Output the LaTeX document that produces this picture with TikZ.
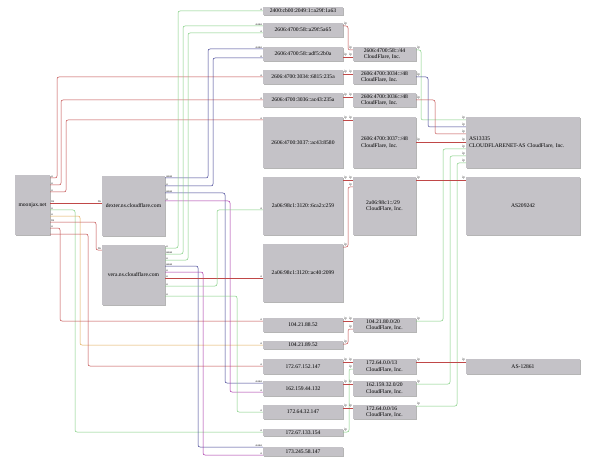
\documentclass[tikz,border=0pt]{standalone}
\usepackage{fontspec}
\setmainfont{Liberation Serif}
\usetikzlibrary{shadows}
\definecolor{boxgray}{RGB}{196,194,199}
\definecolor{shadegray}{RGB}{150,150,150}
\definecolor{ered}{RGB}{192,72,72}
\definecolor{egreen}{RGB}{125,205,125}
\definecolor{eblue}{RGB}{60,60,145}
\definecolor{epurple}{RGB}{165,45,165}
\definecolor{eorange}{RGB}{225,170,85}
\tikzset{
  box/.style={fill=boxgray, inner sep=0pt, align=center, font=\fontsize{5.6}{6.2}\selectfont,
    drop shadow={shadow xshift=0.8pt, shadow yshift=-0.8pt, fill=shadegray, opacity=0.7}},
  ipbox/.style={box, minimum width=80pt},
  pfxbox/.style={box, minimum width=63pt, align=left},
  asbox/.style={box, minimum width=114pt},
  lbl/.style={font=\fontsize{3.5}{4}\selectfont, inner sep=0.6pt, text=black!80},
  sl/.style={anchor=south west},
  el/.style={anchor=south east},
  wire/.style={line width=0.5pt, rounded corners=2pt},
}
\begin{document}
\begin{tikzpicture}[x=1pt, y=-1pt]
\useasboundingbox (0,0) rectangle (594,465);

% Names
\node[box, minimum width=35pt, minimum height=60pt] (moon) at (32.5,205) {moonjax.net};
\node[box, minimum width=63pt, minimum height=60pt] (dexter) at (133.5,206) {dexter.ns.cloudflare.com};
\node[box, minimum width=63pt, minimum height=60pt] (vera) at (133.5,275) {vera.ns.cloudflare.com};

% Addresses
\node[ipbox, minimum height=8pt] (i1) at (303,11) {2400:cb00:2049:1::a29f:1a63};
\node[ipbox, minimum height=14pt] (i2) at (303,30) {2606:4700:58::a29f:5a65};
\node[ipbox, minimum height=14pt] (i3) at (303,54) {2606:4700:58::adf5:2b0a};
\node[ipbox, minimum height=14pt] (i4) at (303,77) {2606:4700:3034::6815:235a};
\node[ipbox, minimum height=14pt] (i5) at (303,100) {2606:4700:3036::ac43:235a};
\node[ipbox, minimum height=51pt] (i6) at (303,142.5) {2606:4700:3037::ac43:8580};
\node[ipbox, minimum height=58pt] (i7) at (303,206) {2a06:98c1:3120::6ca2:c259};
\node[ipbox, minimum height=58pt] (i8) at (303,273) {2a06:98c1:3120::ac40:2099};
\node[ipbox, minimum height=14pt] (i9) at (303,325) {104.21.88.52};
\node[ipbox, minimum height=8pt] (i10) at (303,345) {104.21.89.52};
\node[ipbox, minimum height=15pt] (i11) at (303,366.5) {172.67.152.147};
\node[ipbox, minimum height=15pt] (i12) at (303,388.5) {162.159.44.132};
\node[ipbox, minimum height=14pt] (i13) at (303,412) {172.64.32.147};
\node[ipbox, minimum height=7pt] (i14) at (303,432.5) {172.67.133.154};
\node[ipbox, minimum height=9pt] (i15) at (303,451.5) {173.245.58.147};

% Prefixes
\node[pfxbox, minimum height=14pt] (p1) at (384.5,54) {2606:4700:58::/44\\CloudFlare, Inc.};
\node[pfxbox, minimum height=14pt] (p2) at (384.5,77) {2606:4700:3034::/48\\CloudFlare, Inc.};
\node[pfxbox, minimum height=14pt] (p3) at (384.5,100) {2606:4700:3036::/48\\CloudFlare, Inc.};
\node[pfxbox, minimum height=51pt] (p4) at (384.5,142.5) {2606:4700:3037::/48\\CloudFlare, Inc.};
\node[pfxbox, minimum height=58pt] (p5) at (384.5,206) {2a06:98c1::/29\\CloudFlare, Inc.};
\node[pfxbox, minimum height=14pt] (p6) at (384.5,325) {104.21.80.0/20\\CloudFlare, Inc.};
\node[pfxbox, minimum height=15pt] (p7) at (384.5,366.5) {172.64.0.0/13\\CloudFlare, Inc.};
\node[pfxbox, minimum height=15pt] (p8) at (384.5,388.5) {162.159.32.0/20\\CloudFlare, Inc.};
\node[pfxbox, minimum height=14pt] (p9) at (384.5,412) {172.64.0.0/16\\CloudFlare, Inc.};

% Origins
\node[asbox, minimum height=51pt, text width=108pt, align=left] (a1) at (523,142.5) {AS13335\\CLOUDFLARENET-AS CloudFlare, Inc.};
\node[asbox, minimum height=58pt] (a2) at (523,206) {AS209242};
\node[asbox, minimum height=15pt] (a3) at (523,366.5) {AS-12861};

% moonjax.net
\draw[wire,ered] (moon.east |- 0,178) node[lbl,sl]{a} -| (57,77) -- (i4.west |- 0,77) node[lbl,el]{a};
\draw[wire,ered] (moon.east |- 0,185) node[lbl,sl]{a} -| (61,100) -- (i5.west |- 0,100) node[lbl,el]{a};
\draw[wire,ered] (moon.east |- 0,192) node[lbl,sl]{a} -| (66,120) -- (i6.west |- 0,120) node[lbl,el]{a};
\draw[wire,ered] (moon.east |- 0,203) node[lbl,sl]{ns} -- (dexter.west |- 0,203) node[lbl,el]{ns};
\draw[wire,egreen] (moon.east |- 0,210) node[lbl,sl]{a} -| (75,432) -- (i14.west |- 0,432) node[lbl,el]{a};
\draw[wire,eorange] (moon.east |- 0,216) node[lbl,sl]{a} -| (80,345) -- (i10.west |- 0,345) node[lbl,el]{a};
\draw[wire,ered] (moon.east |- 0,222) node[lbl,sl]{ns} -| (96,250) -- (vera.west |- 0,250) node[lbl,el]{ns};
\draw[wire,ered] (moon.east |- 0,228) node[lbl,sl]{a} -| (60,321) -- (i9.west |- 0,321) node[lbl,el]{a};
\draw[wire,ered] (moon.east |- 0,234) -| (88,366) -- (i11.west |- 0,366) node[lbl,el]{a};

% dexter
\draw[wire,eblue] (dexter.east |- 0,178) node[lbl,sl]{aaaa} -| (208,49) -- (i3.west |- 0,49) node[lbl,el]{aaaa};
\draw[wire,eblue] (dexter.east |- 0,186) node[lbl,sl]{a} -| (213,58) -- (i3.west |- 0,58) node[lbl,el]{a};
\draw[wire,eblue] (dexter.east |- 0,193) node[lbl,sl]{aaaa} -| (225,383) -- (i12.west |- 0,383) node[lbl,el]{aaaa};
\draw[wire,epurple] (dexter.east |- 0,201) node[lbl,sl]{a} -| (230,392) -- (i12.west |- 0,392) node[lbl,el]{a};

% vera
\draw[wire,egreen] (vera.east |- 0,248) node[lbl,sl]{a} -| (178,11) -- (i1.west |- 0,11) node[lbl,el]{a};
\draw[wire,egreen] (vera.east |- 0,254) node[lbl,sl]{aaaa} -| (183,26) -- (i2.west |- 0,26) node[lbl,el]{aaaa};
\draw[wire,egreen] (vera.east |- 0,260) node[lbl,sl]{a} -| (188,33) -- (i2.west |- 0,33) node[lbl,el]{a};
\draw[wire,eblue] (vera.east |- 0,266) node[lbl,sl]{aaaa} -| (198,447) -- (i15.west |- 0,447) node[lbl,el]{aaaa};
\draw[wire,epurple] (vera.east |- 0,272) node[lbl,sl]{a} -| (203,455) -- (i15.west |- 0,455) node[lbl,el]{a};
\draw[wire,ered] (vera.east |- 0,278) node[lbl,sl]{a} -- (i8.west |- 0,278) node[lbl,el]{a};
\draw[wire,egreen] (vera.east |- 0,286) node[lbl,sl]{a} -| (217,210) -- (i7.west |- 0,210) node[lbl,el]{a};
\draw[wire,egreen] (vera.east |- 0,296) node[lbl,sl]{a} -| (237,412) -- (i13.west |- 0,412) node[lbl,el]{a};

% address -> prefix
\draw[wire,ered] (i2.east |- 0,26) node[lbl,sl]{ip} -| (348,50) -- (p1.west |- 0,50) node[lbl,el]{ip};
\draw[wire,ered] (i3.east |- 0,57) node[lbl,sl]{ip} -- (p1.west |- 0,57) node[lbl,el]{ip};
\draw[wire,ered] (i4.east |- 0,74) node[lbl,sl]{ip} -- (p2.west |- 0,74) node[lbl,el]{ip};
\draw[wire,ered] (i5.east |- 0,97) node[lbl,sl]{ip} -- (p3.west |- 0,97) node[lbl,el]{ip};
\draw[wire,ered] (i6.east |- 0,120) node[lbl,sl]{ip} -- (p4.west |- 0,120) node[lbl,el]{ip};
\draw[wire,ered] (i7.east |- 0,180) node[lbl,sl]{ip} -- (p5.west |- 0,180) node[lbl,el]{ip};
\draw[wire,ered] (i8.east |- 0,247) node[lbl,sl]{ip} -| (348,187) -- (p5.west |- 0,187) node[lbl,el]{ip};
\draw[wire,ered] (i9.east |- 0,321) node[lbl,sl]{ip} -- (p6.west |- 0,321) node[lbl,el]{ip};
\draw[wire,ered] (i10.east |- 0,344) node[lbl,sl]{ip} -| (348,329) -- (p6.west |- 0,329) node[lbl,el]{ip};
\draw[wire,ered] (i11.east |- 0,362) node[lbl,sl]{ip} -- (p7.west |- 0,362) node[lbl,el]{ip};
\draw[wire,egreen] (i14.east |- 0,432) node[lbl,sl]{ip} -| (349,369) -- (p7.west |- 0,369) node[lbl,el]{ip};
\draw[wire,ered] (i12.east |- 0,384) node[lbl,sl]{ip} -- (p8.west |- 0,384) node[lbl,el]{ip};
\draw[wire,ered] (i13.east |- 0,408) node[lbl,sl]{ip} -- (p9.west |- 0,408) node[lbl,el]{ip};

% prefix -> origin
\draw[wire,egreen] (p1.east |- 0,50) node[lbl,sl]{ip} -| (421,120) -- (a1.west |- 0,120) node[lbl,el]{ip};
\draw[wire,eblue] (p2.east |- 0,77) node[lbl,sl]{ip} -| (428,127) -- (a1.west |- 0,127) node[lbl,el]{ip};
\draw[wire,ered] (p3.east |- 0,100) node[lbl,sl]{ip} -| (435,134) -- (a1.west |- 0,134) node[lbl,el]{ip};
\draw[wire,ered] (p4.east |- 0,142) node[lbl,sl]{ip} -- (a1.west |- 0,142) node[lbl,el]{ip};
\draw[wire,egreen] (p6.east |- 0,321) node[lbl,sl]{ip} -| (443,149) -- (a1.west |- 0,149) node[lbl,el]{ip};
\draw[wire,egreen] (p8.east |- 0,384) node[lbl,sl]{ip} -| (450,156) -- (a1.west |- 0,156) node[lbl,el]{ip};
\draw[wire,egreen] (p9.east |- 0,406) node[lbl,sl]{ip} -| (457,163) -- (a1.west |- 0,163) node[lbl,el]{ip};
\draw[wire,ered] (p5.east |- 0,180) node[lbl,sl]{ip} -- (a2.west |- 0,180) node[lbl,el]{ip};
\draw[wire,ered] (p7.east |- 0,362) node[lbl,sl]{ip} -- (a3.west |- 0,362) node[lbl,el]{ip};
\end{tikzpicture}
\end{document}
